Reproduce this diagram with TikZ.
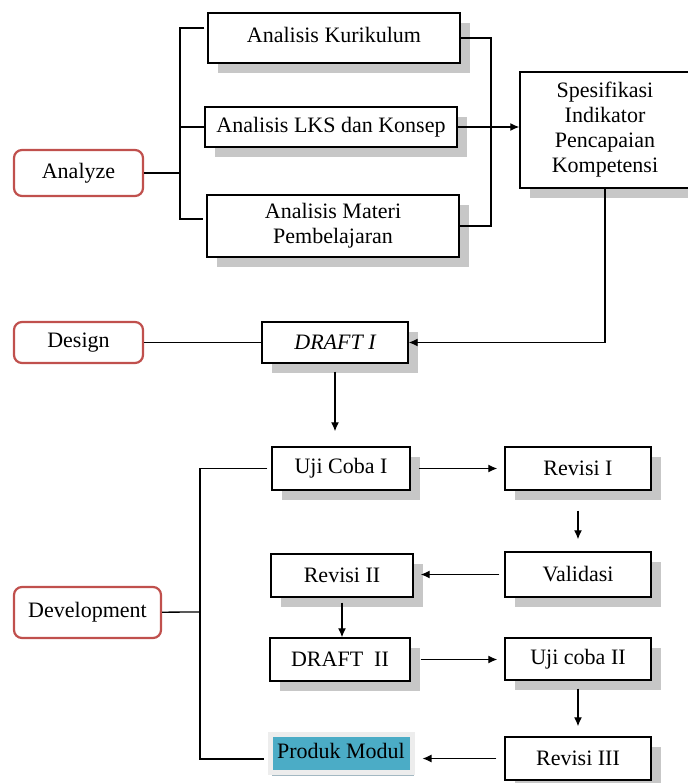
\documentclass[tikz,border=0pt]{standalone}
\usepackage{fontspec}
\setmainfont{Liberation Serif}
\usepackage{xcolor}
\usetikzlibrary{arrows.meta, shadows}

\definecolor{phasered}{HTML}{C0504D}
\definecolor{prodblue}{HTML}{4BACC6}
\definecolor{prodshadow}{HTML}{A3B8C2}

\begin{document}
\begin{tikzpicture}[
    x=0.5pt, y=-0.5pt,
    box/.style={draw, line width=0.7pt, fill=white, align=center, inner sep=1pt,
      font=\fontsize{11}{12.5}\selectfont,
      drop shadow={shadow xshift=5pt, shadow yshift=-5pt, fill=black!22, opacity=1}},
    phase/.style={draw=phasered, line width=1.1pt, rounded corners=4pt, fill=white,
      font=\fontsize{11}{12.5}\selectfont},
    prod/.style={draw=black!7, line width=2.5pt, fill=prodblue, inner sep=1pt,
      font=\fontsize{11}{12.5}\selectfont,
      drop shadow={shadow xshift=1pt, shadow yshift=-2pt, fill=prodshadow, opacity=1}},
    conn/.style={line width=0.65pt},
    arr/.style={line width=0.65pt, -{Latex[length=4.5pt, width=4pt]}},
  ]
    \useasboundingbox (0,0) rectangle (687,783);

    % ── Analyze ──
    \node[phase, minimum width=64.5pt, minimum height=23pt] (analyze) at (78.5,173) {Analyze};
    \node[box, minimum width=126pt, minimum height=25pt] (anakur) at (334,38) {\raisebox{3pt}{Analisis Kurikulum}};
    \node[box, minimum width=126pt, minimum height=20pt] (analks) at (331,127) {Analisis LKS dan Konsep};
    \node[box, minimum width=126pt, minimum height=31pt] (anamat) at (333,226) {Analisis Materi\\Pembelajaran};
    \node[box, minimum width=85pt, minimum height=58pt] (spes) at (605,130) {Spesifikasi\\Indikator\\Pencapaian\\Kompetensi};
    % left bracket
    \coordinate (la-top) at (180,28);
    \coordinate (la-mid) at (180,173);
    \coordinate (la-bot) at (180,219);
    \draw[conn] ([xshift=-1.5pt]la-top -| anakur.west) -- (la-top) -- (la-bot) -- ([xshift=-1.5pt]la-bot -| anamat.west);
    \draw[conn] (la-mid |- analks.west) -- (analks.west);
    \draw[conn] (analyze) -- (la-mid);
    % right bracket
    \coordinate (ra-mid) at (491,130);
    \draw[conn] (anakur.east) -| (ra-mid) |- (anamat.east);
    \draw[arr] (analks.east) -- (analks.east -| spes.west);

    % ── Design ──
    \node[phase, minimum width=64.5pt, minimum height=20.5pt] (design) at (78.5,342.5) {Design};
    \node[box, minimum width=73pt, minimum height=20.5pt] (draft1) at (335,342.5) {\itshape DRAFT I};
    \draw[conn] (design) -- (draft1);
    \draw[arr] (spes.south) |- (draft1.east);

    % ── Development ──
    \node[phase, minimum width=73.5pt, minimum height=25.5pt] (dev) at (87.5,612.5) {Development};
    \node[box, minimum width=69pt, minimum height=21.5pt] (uji1) at (341,468.5) {Uji Coba I};
    \node[box, minimum width=73pt, minimum height=21.5pt] (rev1) at (578,468.5) {Revisi I};
    \node[box, minimum width=73pt, minimum height=22.5pt] (valid) at (578,574.5) {Validasi};
    \node[box, minimum width=71pt, minimum height=21.5pt] (rev2) at (342,575.5) {Revisi II};
    \node[box, minimum width=70pt, minimum height=21.5pt] (draft2) at (340,659.5) {DRAFT\ \ II};
    \node[box, minimum width=73pt, minimum height=21pt] (uji2) at (578,659) {Uji coba II};
    \node[box, minimum width=73pt, minimum height=21.5pt] (rev3) at (578,758.5) {Revisi III};
    \node[prod, minimum width=71pt, minimum height=19pt] (produk) at (341,753) {\raisebox{2.5pt}{Produk Modul}};
    % flow
    \draw[arr] ([yshift=-4pt]draft1.south) -- ([yshift=7.5pt]draft1.south |- uji1.north);
    \draw[arr] ([xshift=4pt]uji1.east) -- ([xshift=-3.5pt]uji1.east -| rev1.west);
    \draw[arr] ([yshift=-10pt]rev1.south) -- ([yshift=6pt]rev1.south |- valid.north);
    \draw[arr] ([xshift=-2.5pt]valid.west) -- ([xshift=3.5pt]valid.west -| rev2.east);
    \draw[arr] ([yshift=-2.5pt]rev2.south) -- (rev2.south |- draft2.north);
    \draw[arr] ([xshift=5pt]draft2.east) -- ([xshift=-3.5pt]draft2.east -| uji2.west);
    \draw[arr] ([yshift=-4pt]uji2.south) -- ([yshift=5pt]uji2.south |- rev3.north);
    \draw[arr] ([xshift=-4pt]rev3.west) -- ([xshift=4pt]rev3.west -| produk.east);
    % bracket
    \coordinate (dv-mid) at (200,612);
    \coordinate (dv-bot) at (200,759);
    \draw[conn] ([xshift=-2pt]uji1.west) -| (dv-mid) -- (dv-bot) -- ([xshift=-2pt]dv-bot -| produk.west);
    \draw[conn] (dev) -- (dv-mid);
\end{tikzpicture}
\end{document}
